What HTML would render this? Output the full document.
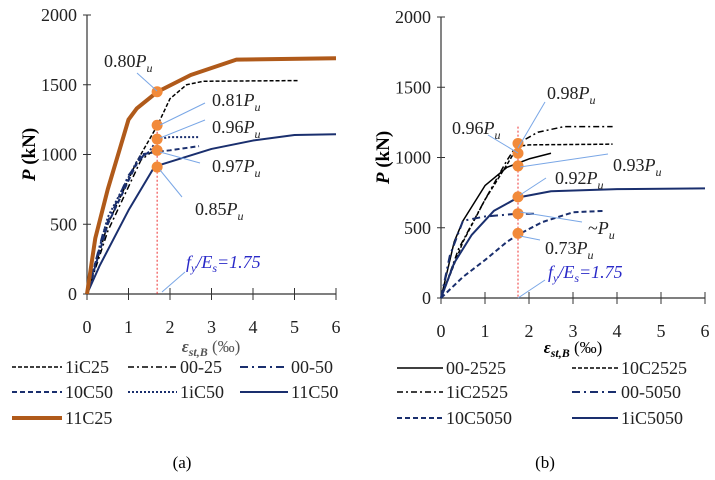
<!DOCTYPE html>
<html><head><meta charset="utf-8"><style>
body{margin:0;background:#fff;width:715px;height:475px;overflow:hidden}
svg{font-family:"Liberation Serif",serif}
</style></head><body>
<svg id="s" width="715" height="475"></svg>
<script>
// ---- chart (a) data ----
const aNames=["1iC25","00-25","00-50","10C50","1iC50","11C50","11C25"];
const a_1iC25=[[0,0],[0.5,500],[1.2,950],[1.7,1210],[2,1400],[2.4,1500],[2.8,1525],[5.1,1530]];
const a_0025=[[0,0],[0.5,450],[1.3,960],[1.7,1050]];
const a_0050=[[0,0],[0.4,450],[1.0,850],[1.4,1010],[1.7,1010]];
const a_10C50=[[0,0],[0.5,500],[1.3,1000],[1.7,1020],[2,1030],[2.7,1060]];
const a_1iC50=[[0,0],[0.5,550],[1.2,950],[1.5,1020],[1.7,1110],[2,1125],[2.7,1125]];
const a_11C50=[[0,0],[0.3,200],[1,600],[1.6,900],[1.7,920],[3,1040],[4,1100],[5,1140],[6,1145]];
const a_11C25=[[0,0],[0.2,400],[0.5,750],[0.8,1050],[1,1250],[1.2,1330],[1.7,1450],[2.5,1570],[3.6,1680],[6,1690]];
const aMarkers=[1450,1210,1110,1030,910];
// ---- chart (b) data ----
const bNames=["00-2525","10C2525","1iC2525","00-5050","10C5050","1iC5050"];
const b_002525=[[0,0],[0.3,400],[0.5,550],[1,800],[1.5,930],[1.75,960],[2,990],[2.5,1030]];
const b_10C2525=[[0,0],[0.5,400],[1,700],[1.5,950],[1.75,1080],[2,1090],[3.9,1095]];
const b_1iC2525=[[0,0],[0.4,350],[1,700],[1.5,980],[1.75,1100],[2.2,1180],[2.8,1220],[3.9,1220]];
const b_005050=[[0,0],[0.2,300],[0.5,550],[1,580],[1.75,600],[2.2,600]];
const b_10C5050=[[0,0],[0.5,150],[1,270],[1.5,400],[1.75,450],[2.3,540],[3,610],[3.7,620]];
const b_1iC5050=[[0,0],[0.3,250],[0.7,450],[1.2,620],[1.75,715],[2.5,760],[4,775],[6,780]];
const bMarkers=[1100,1030,940,720,600,460];
const xTicks=[0,1,2,3,4,5,6];
const yTicks=[0,500,1000,1500,2000];

const S=document.getElementById('s');const NS="http://www.w3.org/2000/svg";
function el(t,a,txt){const e=document.createElementNS(NS,t);for(const k in a)e.setAttribute(k,a[k]);if(txt!==undefined)e.innerHTML=txt;S.appendChild(e);return e;}
const styles={
 "1iC25":{c:"#000",w:1.5,d:"4,2"},"00-25":{c:"#000",w:1.5,d:"6,3,2,3"},"00-50":{c:"#1a2f6e",w:2,d:"8,4,2,4"},
 "10C50":{c:"#1a2f6e",w:2,d:"5,3"},"1iC50":{c:"#1a2f6e",w:2,d:"2,2"},"11C50":{c:"#1a2f6e",w:2,d:""},"11C25":{c:"#b05a1a",w:4,d:""},
 "00-2525":{c:"#000",w:1.5,d:""},"10C2525":{c:"#000",w:1.5,d:"4,2"},"1iC2525":{c:"#000",w:1.5,d:"6,3,2,3"},
 "00-5050":{c:"#1a2f6e",w:2,d:"8,4,2,4"},"10C5050":{c:"#1a2f6e",w:2,d:"5,3"},"1iC5050":{c:"#1a2f6e",w:2,d:""}};
function chart(id,x0,x1,y0,y1,series,names,mx,markers){
 const X=v=>x0+(x1-x0)*v/6, Y=v=>y0-(y0-y1)*v/2000;
 el('line',{x1:x0,y1:y0,x2:x0,y2:y1,stroke:'#333','stroke-width':1.2,});
 el('line',{x1:x0,y1:y0,x2:x1,y2:y0,stroke:'#333','stroke-width':1.2,});
 yTicks.forEach(t=>{el('line',{x1:x0-4,y1:Y(t),x2:x0+4,y2:Y(t),stroke:'#333'});
  const tx=el('text',{x:x0-10,y:Y(t)+6,'text-anchor':'end','font-size':18,fill:'#222'},t);
  });
 xTicks.forEach(t=>{el('line',{x1:X(t),y1:y0-6,x2:X(t),y2:y0+6,stroke:'#333'});
  const tx=el('text',{x:X(t),y:y0+39,'text-anchor':'middle','font-size':18,fill:'#222'},t);
  });
 el('line',{x1:X(mx),y1:Y(1220),x2:X(mx),y2:y0,stroke:'#e33','stroke-width':1,'stroke-dasharray':'2,2',});
 series.forEach((pts,i)=>{const st=styles[names[i]];
  const p=el('polyline',{points:pts.map(q=>X(q[0])+','+Y(q[1])).join(' '),fill:'none',stroke:st.c,'stroke-width':st.w,'stroke-dasharray':st.d,'stroke-linejoin':'round'});
  });
 markers.forEach(v=>{const c=el('circle',{cx:X(mx),cy:Y(v),r:5.5,fill:'#f28a3a'});
  });
 const yt=el('text',{x:0,y:0,'font-size':19,'font-weight':'bold',transform:`translate(${x0-52},${(y0+y1)/2}) rotate(-90)`,'text-anchor':'middle'},'<tspan font-style="italic">P</tspan> (kN)');
 
}
chart('a',87,336,294,15,[a_1iC25,a_0025,a_0050,a_10C50,a_1iC50,a_11C50,a_11C25],aNames,1.69,aMarkers);
chart('b',441,705,298,17,[b_002525,b_10C2525,b_1iC2525,b_005050,b_10C5050,b_1iC5050],bNames,1.75,bMarkers);
function pu(x,y,n,tail){const t=el('text',{x:x,y:y,'font-size':18,fill:'#222'},n+'<tspan font-style="italic">P</tspan><tspan font-style="italic" font-size="12" dy="5">'+(tail||'u')+'</tspan>');
 }
function ln(a,b,c,d){el('line',{x1:a,y1:b,x2:c,y2:d,stroke:'#7aa7e6','stroke-width':1,});}
pu(104,67,'0.80');ln(137,73,157,91);
pu(212,106,'0.81');ln(160,125,205,103);
pu(212,133,'0.96');ln(160,138,205,120);
pu(212,172,'0.97');ln(160,152,200,163);
pu(195,215,'0.85');ln(160,170,182,197);
function fy(x,y){const t=el('text',{x:x,y:y,'font-size':18,fill:'#2a2ac8','font-style':'italic'},'f<tspan font-size="12" dy="4">y</tspan><tspan dy="-4">/E</tspan><tspan font-size="12" dy="4">s</tspan><tspan dy="-4">=1.75</tspan>');
 }
fy(186,268);ln(162,292,185,272);
pu(547,99,'0.98');ln(545,102,518,148);
pu(452,134,'0.96');ln(488,135,518,153);
pu(613,171,'0.93');ln(608,154,520,167);
pu(555,184,'0.92');ln(546,178,520,195);
const tp=el('text',{x:588,y:234,'font-size':18,fill:'#222'},'~<tspan font-style="italic">P</tspan><tspan font-style="italic" font-size="12" dy="5">u</tspan>');
ln(582,222,520,212);
pu(545,254,'0.73');ln(540,240,520,236);
fy(548,278);ln(545,280,518,298);
// x titles
[[211,352,'#555'],[573,353,'#000']].forEach(q=>{const t=el('text',{x:q[0],y:q[1],'text-anchor':'middle','font-size':17,fill:q[2]},'<tspan font-style="italic" font-weight="bold">ε</tspan><tspan font-style="italic" font-weight="bold" font-size="12" dy="4">st,B</tspan><tspan dy="-4"> (‰)</tspan>');
 });
// legends
function leg(name,x,y,len){const st=styles[name];
 el('line',{x1:x,y1:y,x2:x+len,y2:y,stroke:st.c,'stroke-width':st.w,'stroke-dasharray':st.d,});
 const t=el('text',{x:x+len+3,y:y+6,'font-size':18,fill:'#222'},name);}
leg("1iC25",12,367,50);leg("00-25",128,367,49);leg("00-50",240,367,48);
leg("10C50",12,392,50);leg("1iC50",128,392,49);leg("11C50",240,392,48);
leg("11C25",12,418,50);
leg("00-2525",397,368,46);leg("10C2525",572,368,46);
leg("1iC2525",397,392,46);leg("00-5050",572,392,46);
leg("10C5050",397,418,46);leg("1iC5050",572,418,46);
[[182,'(a)'],[545,'(b)']].forEach(q=>{const t=el('text',{x:q[0],y:468,'text-anchor':'middle','font-size':17},q[1]);
 });
</script>
</body></html>
